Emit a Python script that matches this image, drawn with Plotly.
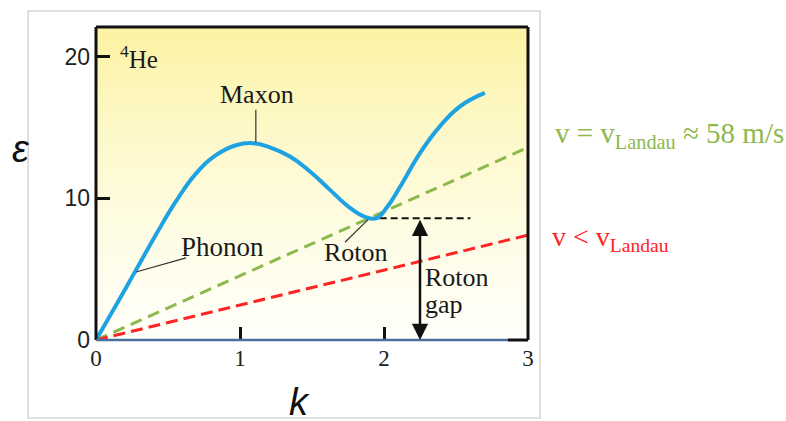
import numpy as np
import plotly.graph_objects as go

# Helium-4 excitation spectrum (wavevector k, energy eps)
k_disp = [0.0, 0.139, 0.278, 0.417, 0.556, 0.694, 0.833, 0.972, 1.088, 1.208, 1.347,
          1.486, 1.625, 1.764, 1.868, 1.949, 2.018, 2.111, 2.25, 2.389, 2.528, 2.70]
eps_disp = [0.0, 2.45, 4.95, 7.45, 9.8, 11.75, 13.05, 13.75, 13.9, 13.6, 12.95,
            11.9, 10.6, 9.33, 8.7, 8.6, 9.33, 10.8, 13.2, 15.1, 16.5, 17.45]

# Critical-velocity lines from the origin
k_line = [0.0, 3.0]
eps_landau = [0.0, 13.6]
eps_below = [0.0, 7.4]

# Roton gap
roton_gap = 8.6
gap_dash_k = [1.97, 2.60]
gap_arrow_k = 2.25

x_ticks = [0, 1, 2, 3]
y_ticks = [0, 10, 20]
x_range = [0, 3]
y_range = [0, 22.1]

SERIF = "Liberation Serif"
SANS = "Liberation Sans"
BLUE = "#1fa2e2"
GREEN = "#8db84c"
RED = "#ff2424"
INK = "#1a1a1a"

fig = go.Figure()

# Pale yellow vertical wash behind the plot
grad_y = np.linspace(y_range[0], y_range[1], 60)
grad_z = [[v, v] for v in grad_y / y_range[1]]
fig.add_trace(go.Heatmap(
    x=[x_range[0], x_range[1]], y=grad_y, z=grad_z, zsmooth="best",
    colorscale=[[0, "#fffffb"], [0.45, "#fefbdc"], [0.8, "#fdf6bb"], [1, "#fcf2a2"]],
    showscale=False, hoverinfo="skip", zmin=0, zmax=1,
))

fig.add_trace(go.Scatter(x=k_line, y=eps_landau, mode="lines",
                         line=dict(color=GREEN, width=3, dash="12px,7px"), hoverinfo="skip"))
fig.add_trace(go.Scatter(x=k_line, y=eps_below, mode="lines",
                         line=dict(color=RED, width=3, dash="12px,6px"), hoverinfo="skip"))
fig.add_trace(go.Scatter(x=gap_dash_k, y=[roton_gap, roton_gap], mode="lines",
                         line=dict(color="#111111", width=2, dash="7px,4px"), hoverinfo="skip"))
fig.add_trace(go.Scatter(x=k_disp, y=eps_disp, mode="lines",
                         line=dict(color=BLUE, width=4, shape="spline", smoothing=1.3),
                         hoverinfo="skip"))

# Leader lines for the labels
leaders = [
    ([1.11, 1.11], [16.25, 13.95]),
    ([0.278, 0.625], [4.8, 5.8]),
    ([1.729, 1.889], [6.9, 8.5]),
]
for lx, ly in leaders:
    fig.add_trace(go.Scatter(x=lx, y=ly, mode="lines",
                             line=dict(color="#333333", width=1.2), hoverinfo="skip"))

# Frame: black left/top/right, blue-grey floor
frame = [
    dict(x0=0, x1=0, y0=0, y1=1, color="#111111", width=3),
    dict(x0=0, x1=1, y0=1, y1=1, color="#111111", width=3),
    dict(x0=1, x1=1, y0=0, y1=1, color="#111111", width=3),
    dict(x0=0, x1=0.953, y0=0, y1=0, color="#4a6d9a", width=2.5),
    dict(x0=0.953, x1=1, y0=0, y1=0, color="#111111", width=3),
]
shapes = []
for f in frame:
    shapes.append(dict(type="line", xref="paper", yref="paper",
                       x0=f["x0"], x1=f["x1"], y0=f["y0"], y1=f["y1"],
                       line=dict(color=f["color"], width=f["width"]), layer="above"))
# Light outer border around the chart
shapes.append(dict(type="rect", xref="paper", yref="paper",
                   x0=-0.157, x1=1.028, y0=-0.249, y1=1.051,
                   line=dict(color="#d6d6d6", width=1.5), layer="below"))

annotations = [
    dict(x=gap_arrow_k, y=0, ax=gap_arrow_k, ay=roton_gap, xref="x", yref="y",
         axref="x", ayref="y", text="", showarrow=True, arrowhead=2,
         arrowside="end+start", arrowwidth=2.5, arrowsize=1.3, arrowcolor="#111111"),
    dict(x=0.153, y=20.0, xref="x", yref="y", text="<sup>4</sup>He", showarrow=False,
         xanchor="left", yanchor="middle", font=dict(family=SERIF, size=25, color=INK)),
    dict(x=1.118, y=17.3, xref="x", yref="y", text="Maxon", showarrow=False,
         font=dict(family=SERIF, size=26, color=INK)),
    dict(x=0.875, y=6.6, xref="x", yref="y", text="Phonon", showarrow=False,
         font=dict(family=SERIF, size=27, color=INK)),
    dict(x=1.806, y=6.2, xref="x", yref="y", text="Roton", showarrow=False,
         font=dict(family=SERIF, size=26, color=INK)),
    dict(x=2.27, y=4.4, xref="x", yref="y", text="Roton", showarrow=False,
         xanchor="left", font=dict(family=SERIF, size=26, color=INK)),
    dict(x=2.27, y=2.5, xref="x", yref="y", text="gap", showarrow=False,
         xanchor="left", font=dict(family=SERIF, size=26, color=INK)),
    dict(x=1.058, y=0.655, xref="paper", yref="paper", xanchor="left", yanchor="middle",
         text="v = v<sub>Landau</sub> \u2248 58 m/s", showarrow=False,
         font=dict(family=SERIF, size=29, color=GREEN)),
    dict(x=1.05, y=0.323, xref="paper", yref="paper", xanchor="left", yanchor="middle",
         text="v < v<sub>Landau</sub>", showarrow=False,
         font=dict(family=SERIF, size=28, color=RED)),
    dict(x=-0.2, y=0.61, xref="paper", yref="paper", text="<i>\u03b5</i>",
         showarrow=False, font=dict(family=SANS, size=38, color="#111111")),
    dict(x=0.47, y=-0.125, xref="paper", yref="paper", yanchor="top", text="<i>k</i>",
         showarrow=False, font=dict(family=SANS, size=38, color="#111111")),
]

fig.update_layout(
    width=786, height=421, autosize=False,
    margin=dict(l=96, r=258, t=27, b=81),
    paper_bgcolor="white", plot_bgcolor="white",
    showlegend=False,
    shapes=shapes, annotations=annotations,
    xaxis=dict(range=x_range, tickvals=x_ticks, ticks="inside", ticklen=13, tickwidth=3,
               tickcolor="#111111", showgrid=False, zeroline=False, showline=False,
               ticklabelstandoff=2,
               tickfont=dict(family=SERIF, size=23, color="#222222"), fixedrange=True),
    yaxis=dict(range=y_range, tickvals=y_ticks, ticks="inside", ticklen=14, tickwidth=3,
               tickcolor="#111111", showgrid=False, zeroline=False, showline=False,
               ticklabelstandoff=5,
               tickfont=dict(family=SANS, size=23, color="#222222"), fixedrange=True),
)

fig.write_html("out.html")
